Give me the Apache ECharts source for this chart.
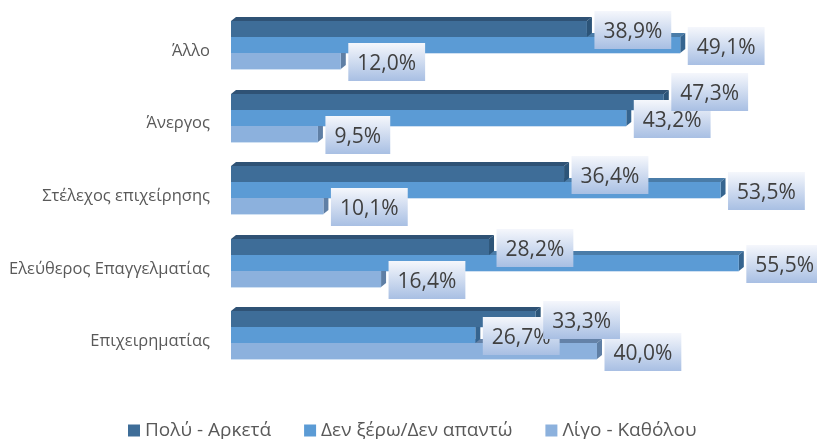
<!DOCTYPE html>
<html>
<head>
<meta charset="utf-8">
<style>html,body{margin:0;padding:0;background:#fff}#container{width:817px;height:439px}</style>
<script src="https://cdn.jsdelivr.net/npm/echarts@6/dist/echarts.min.js"></script>
</head>
<body>
<div id="container"></div>
<script>
var categories = ['Άλλο', 'Άνεργος', 'Στέλεχος επιχείρησης', 'Ελεύθερος Επαγγελματίας', 'Επιχειρηματίας'];
var polyArketa = [38.9, 47.3, 36.4, 28.2, 33.3];
var denXero = [49.1, 43.2, 53.5, 55.5, 26.7];
var ligoKatholou = [12.0, 9.5, 10.1, 16.4, 40.0];

var myChart = echarts.init(document.getElementById('container'));

// bar with front, top and side faces, slot: 0 top, 1 middle, 2 bottom
function bar3d(slot, colors, labelZ, labelShift) {
    return function (params, api) {
        var row = api.value(1);
        var start = api.coord([0, row]);
        var end = api.coord([api.value(0), row]);
        var h = Math.round(api.size([0, 1])[1] * 0.22);
        var x0 = start[0], x1 = end[0];
        var y = Math.round(start[1] + (slot - 1.5) * h);
        var dx = 5, dy = 4;
        var order = 3 - slot;
        return {
            type: 'group',
            children: [
                {
                    type: 'rect', z2: 0,
                    shape: {x: x0, y: y + h, width: x1 - x0, height: 1},
                    style: {fill: '#CFE0F2'}
                },
                {
                    type: 'polygon', z2: order,
                    shape: {points: [[x0, y], [x0 + dx, y - dy], [x1 + dx, y - dy], [x1, y]]},
                    style: {fill: colors[1]}
                },
                {
                    type: 'polygon', z2: order,
                    shape: {points: [[x1, y], [x1 + dx, y - dy], [x1 + dx, y + h - dy], [x1, y + h]]},
                    style: {fill: colors[2]}
                },
                {
                    type: 'rect', z2: order,
                    shape: {x: x0, y: y, width: x1 - x0, height: h},
                    style: {fill: colors[0]}
                },
                {
                    type: 'text', z2: labelZ,
                    style: {
                        x: x1 + 7.5,
                        y: y + h / 2 + 1 - 19 + (labelShift[row] || 0),
                        text: api.value(0).toFixed(1).replace('.', ',') + '%',
                        font: '21px "Open Sans"',
                        fill: '#404040',
                        verticalAlign: 'top',
                        padding: [11, 9, 6, 9],
                        backgroundColor: new echarts.graphic.LinearGradient(0, 0, 0, 1, [
                            {offset: 0, color: '#F5F7FC'},
                            {offset: 1, color: '#A8BFE3'}
                        ])
                    }
                }
            ]
        };
    };
}

function rows(values) {
    var out = [];
    for (var i = 0; i < values.length; i++) {
        out.push([values[i], i]);
    }
    return out;
}

var option = {
    animation: false,
    grid: {left: 231, top: 8.7, width: 549, height: 363},
    xAxis: {type: 'value', min: 0, max: 60, show: false},
    yAxis: {
        type: 'category',
        inverse: true,
        data: categories,
        axisLine: {show: false},
        axisTick: {show: false},
        axisLabel: {color: '#595959', fontSize: 16.5, fontFamily: 'Open Sans', margin: 21, verticalAlign: 'top', lineHeight: 12}
    },
    legend: {
        left: 123,
        top: 416,
        icon: 'rect',
        itemWidth: 12,
        itemHeight: 12,
        itemGap: 33,
        textStyle: {color: '#595959', fontSize: 19, fontFamily: 'Open Sans'},
        data: ['Πολύ - Αρκετά', 'Δεν ξέρω/Δεν απαντώ', 'Λίγο - Καθόλου']
    },
    series: [
        {
            name: 'Πολύ - Αρκετά',
            type: 'custom',
            itemStyle: {color: '#3E6D98'},
            encode: {x: 0, y: 1},
            renderItem: bar3d(0, ['#3E6D98', '#2F5275', '#2C5478'], 12, {1: -11}),
            data: rows(polyArketa)
        },
        {
            name: 'Δεν ξέρω/Δεν απαντώ',
            type: 'custom',
            itemStyle: {color: '#5B9BD5'},
            encode: {x: 0, y: 1},
            renderItem: bar3d(1, ['#5B9BD5', '#4A7CA8', '#35648F'], 10, {}),
            data: rows(denXero)
        },
        {
            name: 'Λίγο - Καθόλου',
            type: 'custom',
            itemStyle: {color: '#8CB1DD'},
            encode: {x: 0, y: 1},
            renderItem: bar3d(2, ['#8CB1DD', '#6482A8', '#5F7FA5'], 11, {}),
            data: rows(ligoKatholou)
        }
    ]
};
myChart.setOption(option);
</script>
</body>
</html>
